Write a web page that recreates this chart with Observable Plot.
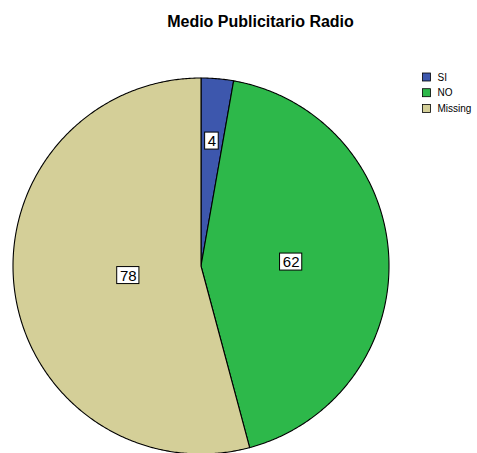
<!DOCTYPE html>
<html>
<head>
<meta charset="utf-8">
<script src="https://cdn.jsdelivr.net/npm/d3@7"></script>
<script src="https://cdn.jsdelivr.net/npm/@observablehq/plot@0.6"></script>
<style>
  html, body { margin: 0; padding: 0; background: #fff; }
  svg { display: block; }
</style>
</head>
<body>
<div id="chart"></div>
<script>
// ---- Data ----
const categories = ["SI", "NO", "Missing"];
const counts = [4, 62, 78];
const colors = ["#3d57ad", "#2db84a", "#d4cf98"];
const title = "Medio Publicitario Radio";

// ---- Layout (pixel space) ----
const W = 477, H = 453;
const cx = 200.5, cy = 265.5, R = 188;
const labelRadius = [0.667, 0.48, 0.39]; // fraction of R where each count label sits

const pie = d3.pie().sort(null).value(d => d.count)(
  categories.map((c, i) => ({category: c, count: counts[i], color: colors[i]}))
);

const pt = (a, r) => ({x: cx + r * Math.sin(a), y: cy - r * Math.cos(a)});

// slice outlines
const slicePts = [];
pie.forEach((s, i) => {
  const n = Math.max(4, Math.ceil((s.endAngle - s.startAngle) / (Math.PI / 360)));
  slicePts.push({...pt(0, 0), category: s.data.category});
  for (let k = 0; k <= n; k++) {
    const a = s.startAngle + (s.endAngle - s.startAngle) * k / n;
    slicePts.push({...pt(a, R), category: s.data.category});
  }
});

// labels
const labels = pie.map((s, i) => {
  const a = (s.startAngle + s.endAngle) / 2;
  const p = pt(a, R * labelRadius[i]);
  const txt = String(s.data.count);
  const w = txt.length * 8.6 + 5;
  return {...p, text: txt, x1: p.x - w / 2, x2: p.x + w / 2, y1: p.y - 8.5, y2: p.y + 8.5};
});

// legend
const legend = categories.map((c, i) => ({
  category: c, color: colors[i],
  x1: 422.5, x2: 430.5, y1: 73 + i * 15.7, y2: 81 + i * 15.7, tx: 437, ty: 77 + i * 15.7
}));

const chart = Plot.plot({
  width: W, height: H,
  margin: 0,
  x: {domain: [0, W], range: [0, W], axis: null},
  y: {domain: [0, H], range: [0, H], axis: null},
  color: {domain: categories, range: colors},
  style: {fontFamily: "Liberation Sans, Arial, sans-serif", background: "#fff"},
  marks: [
    Plot.line(slicePts, {x: "x", y: "y", z: "category", fill: "category", stroke: "#000", strokeWidth: 1.1, curve: "linear-closed", strokeLinejoin: "round"}),
    Plot.rect(labels, {x1: "x1", x2: "x2", y1: "y1", y2: "y2", fill: "#fff", stroke: "#000", strokeWidth: 1}),
    Plot.text(labels, {x: "x", y: "y", text: "text", fontSize: 15, fill: "#000", dy: 0.5}),
    Plot.text([title], {x: 260, y: 21.5, text: d => d, fontSize: 16, fontWeight: "bold", fill: "#000"}),
    Plot.rect(legend, {x1: "x1", x2: "x2", y1: "y1", y2: "y2", fill: "color", stroke: "#000", strokeWidth: 0.8}),
    Plot.text(legend, {x: "tx", y: "ty", text: "category", textAnchor: "start", fontSize: 10, fill: "#000"})
  ]
});
document.getElementById("chart").appendChild(chart);
</script>
</body>
</html>
